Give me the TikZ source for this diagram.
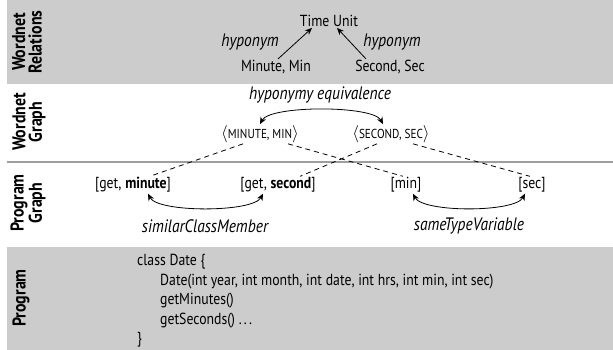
\documentclass[tikz,border=0pt]{standalone}
\usepackage{fontspec}
\setmainfont{PT Sans}[FakeStretch=0.86]
\usetikzlibrary{arrows.meta}
\definecolor{band}{gray}{0.8}
\definecolor{sepline}{gray}{0.62}
\newcommand{\smc}[1]{{\fontsize{13}{14}\selectfont #1}}
\newcommand{\sdots}{.\kern2.2pt.\kern2.2pt.}
\begin{document}
\begin{tikzpicture}[x=1pt,y=-1pt,
  font=\fontsize{16}{18}\selectfont,
  lbl/.style={rotate=90, font=\fontsize{18.5}{16.5}\selectfont\bfseries, align=center, inner sep=0pt},
  txt/.style={inner sep=1pt},
  rel/.style={font=\fontsize{18}{20}\selectfont\itshape, inner sep=1pt},
  arr/.style={line width=0.8pt, -{Stealth[length=7pt,width=6pt]}},
  dbl/.style={line width=0.8pt, {Stealth[length=7pt,width=6pt]}-{Stealth[length=7pt,width=6pt]}},
  dashln/.style={line width=0.8pt, dash pattern=on 5pt off 4pt},
]
\useasboundingbox (0,0) rectangle (613,350);
\fill[band] (7,0) rectangle (613,84);
\fill[band] (7,247) rectangle (613,350);
\draw[sepline, line width=2.5pt] (7,162) -- (613,162);

% side labels
\node[lbl] (l1) at (27,42) {Wordnet\\Relations};
\node[lbl] (l2) at (29,122) {Wordnet\\Graph};
\node[lbl] (l3) at (28,203) {Program\\Graph};
\node[lbl] (l4) at (21,298) {Program};

% wordnet relations
\node[txt] (tu) at (329,21) {Time Unit};
\node[txt] (mm) at (276,67) {Minute, Min};
\node[txt] (ss) at (390,67) {Second, Sec};
\node[rel] (h1) at (250,42) {hyponym};
\node[rel] (h2) at (392,42) {hyponym};
\draw[arr] ([xshift=2pt]mm.north) -- ([xshift=-17pt]tu.south);
\draw[arr] ([xshift=-24pt]ss.north) -- ([xshift=8pt]tu.south);

% wordnet graph
\node[rel] (he) at (320,95) {hyponymy equivalence};
\node[txt] (wmin) at (260,134) {$\langle$\smc{MINUTE, MIN}$\rangle$};
\node[txt] (wsec) at (391,134) {$\langle$\smc{SECOND, SEC}$\rangle$};
\draw[dbl] (wmin.north) .. controls +(10,-19) and +(-10,-19) .. ([xshift=-8pt]wsec.north);

% program graph
\node[txt] (gm) at (133,185) {[get, \textbf{minute}]};
\node[txt] (gsec) at (278,185) {[get, \textbf{second}]};
\node[txt] (gmin) at (406,185) {[min]};
\node[txt] (gsc) at (532,185) {[sec]};
\draw[dashln] ([xshift=-17pt]wmin.south) -- ([xshift=17pt]gm.north);
\draw[dashln] ([xshift=28pt]wmin.south) -- ([xshift=-3pt]gmin.north);
\draw[dashln] ([xshift=-14pt]wsec.south) -- ([xshift=22pt]gsec.north);
\draw[dashln] ([xshift=22pt]wsec.south) -- ([xshift=-2pt]gsc.north);
\draw[dbl] ([xshift=15pt]gm.south) .. controls +(10,19) and +(-10,19) .. ([xshift=-15pt]gsec.south);
\draw[dbl] ([xshift=7pt]gmin.south) .. controls +(10,19) and +(-10,19) .. ([xshift=-7pt]gsc.south);
\node[rel] (scm) at (205,226) {similarClassMember};
\node[rel] (stv) at (469,226) {sameTypeVariable};

% program
\node[anchor=north west, align=left, inner sep=0pt, font=\fontsize{16}{19.5}\selectfont] (code) at (137,254)
 {class Date \{\\
  \hspace{23pt}Date(int year, int month, int date, int hrs, int min, int sec)\\
  \hspace{23pt}getMinutes()\\
  \hspace{23pt}getSeconds() \sdots\\
  \}};
\end{tikzpicture}
\end{document}
